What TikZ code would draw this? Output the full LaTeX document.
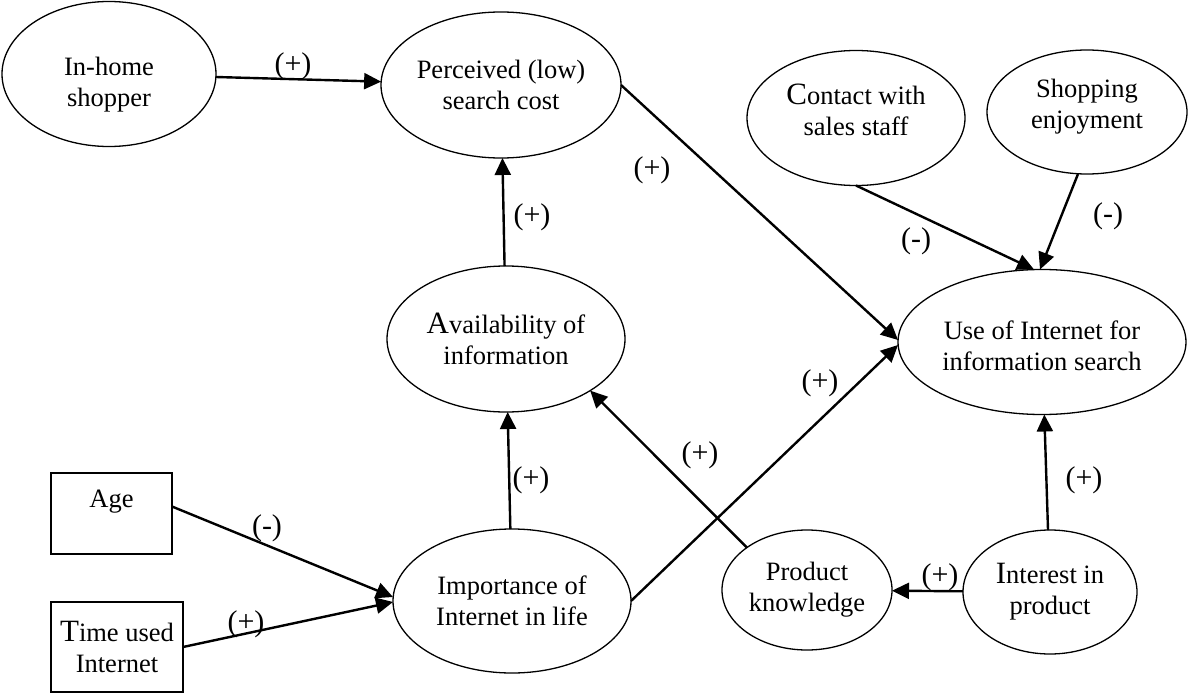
\documentclass[tikz,border=0pt]{standalone}
\usepackage{fontspec}
\setmainfont{Liberation Serif}
\usetikzlibrary{shapes.geometric,arrows.meta}

% enlarged first letter of a caption
\newcommand\initial[1]{{\fontsize{31}{31}\selectfont #1}}

\begin{document}
\begin{tikzpicture}[x=1pt,y=-1pt,
  oval/.style={ellipse, draw, line width=1.3pt, inner sep=0pt, outer sep=0pt,
    align=center, font=\fontsize{26.5}{31}\selectfont},
  box/.style={rectangle, draw, line width=1.5pt, inner sep=0pt, outer sep=0pt,
    align=center, font=\fontsize{26.5}{31}\selectfont},
  % caption set off the centre of its ellipse
  caption/.style 2 args={label={[align=center, inner sep=0pt,
    font=\fontsize{26.5}{31}\selectfont, yshift=#1]center:{#2}}},
  link/.style={line width=2.4pt, -{Triangle[length=17pt,width=16pt]}},
  sign/.style={font=\fontsize{30}{30}\selectfont, inner sep=0pt}
]
\useasboundingbox (0,0) rectangle (1189,693);

% constructs
\node[oval, minimum width=214pt, minimum height=145pt,
  caption={-11pt}{In-home\\shopper}] (home) at (109,74) {};
\node[oval, minimum width=240pt, minimum height=146pt] (cost) at (501,85) {Perceived (low)\\search cost};
\node[oval, minimum width=218pt, minimum height=135pt,
  caption={8pt}{\initial{C}ontact with\\sales staff}] (staff) at (856,118) {};
\node[oval, minimum width=200pt, minimum height=124pt,
  caption={5pt}{Shopping\\enjoyment}] (enjoy) at (1087,112) {};
\node[oval, minimum width=238pt, minimum height=146pt] (avail) at (506,339) {\initial{A}vailability of\\information};
\node[oval, minimum width=288pt, minimum height=145pt,
  caption={-4pt}{Use of Internet for\\information search}] (use) at (1042,342) {};
\node[oval, minimum width=238pt, minimum height=144pt] (imp) at (512,601) {Importance of\\Internet in life};
\node[oval, minimum width=170pt, minimum height=120pt] (know) at (807,590) {Product\\knowledge};
\node[oval, minimum width=174pt, minimum height=124pt] (inter) at (1050,592) {\initial{I}nterest in\\product};
\node[box, minimum width=121pt, minimum height=81pt, text height=18pt, text depth=30pt] (age) at (111.5,513.5) {Age};
\node[box, minimum width=132pt, minimum height=90pt] (time) at (117,647) {\initial{T}ime used\\Internet};

% paths
\draw[link] (home) -- (cost);
\draw[link] (avail) -- (cost);
\draw[link] (cost.east) -- ([yshift=2pt]use.west);
\draw[link] (staff.south) -- ([xshift=-8pt]use.north);
\draw[link] ([xshift=-9pt]enjoy.south) -- ([xshift=-2pt]use.north);
\draw[link] (imp) -- (avail);
\draw[link] (imp.east) -- ([yshift=-3pt]use.west);
\draw[link] (know.north west) -- (avail.south east);
\draw[link] (inter) -- (know);
\draw[link] (inter) -- (use);
\draw[link] ([yshift=7pt]age.east) -- ([yshift=4pt]imp.west);
\draw[link] (time.east) -- ([yshift=-1pt]imp.west);

% signs of the effects
\node[sign] (s1) at (293,66) {(+)};
\node[sign] (s2) at (532,217) {(+)};
\node[sign] (s3) at (652,170) {(+)};
\node[sign] (s4) at (916,241) {(-)};
\node[sign] (s5) at (1108,216) {(-)};
\node[sign] (s6) at (531,480) {(+)};
\node[sign] (s7) at (820,383) {(+)};
\node[sign] (s8) at (700,455) {(+)};
\node[sign] (s9) at (940,577) {(+)};
\node[sign] (s10) at (1084,480) {(+)};
\node[sign] (s11) at (267,528) {(-)};
\node[sign] (s12) at (246,624) {(+)};
\end{tikzpicture}
\end{document}
